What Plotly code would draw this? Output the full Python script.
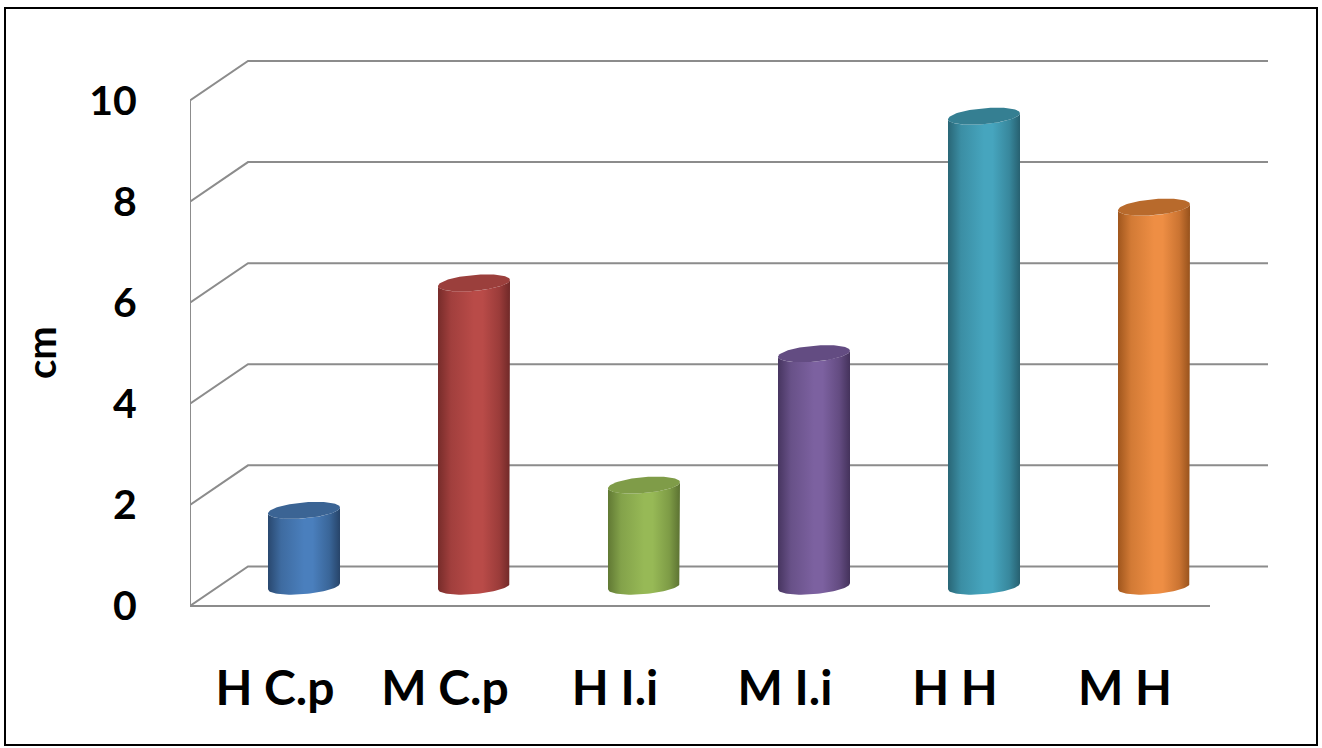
import numpy as np
import plotly.graph_objects as go

# ---- data ----
categories = ["H C.p", "M C.p", "H I.i", "M I.i", "H H", "M H"]
values = [1.5, 6.0, 2.0, 4.6, 9.3, 7.5]
y_ticks = [0, 2, 4, 6, 8, 10]
y_title = "cm"

# body edge colour, body highlight colour, cap colour
bar_dark = ["#2b4c75", "#7d2e2c", "#667f37", "#4b3865", "#2b6b7c", "#a85b1f"]
bar_light = ["#4a7fbd", "#b94b48", "#97b956", "#7c61a0", "#46a5be", "#ee8e44"]
bar_cap = ["#3b6494", "#9b3f3c", "#7f9c48", "#634c82", "#357f92", "#b86a2c"]

# ---- 3D-look geometry (axis units) ----
W, H = 1322, 748
L_M, R_M, T_M, B_M = 190, 54, 50, 137
PX_X = 170.0                       # pixels per category
Y_RANGE = [-0.1, 11.0]
PX_Y = (H - T_M - B_M) / (Y_RANGE[1] - Y_RANGE[0])
X_RANGE = [-0.5, -0.5 + (W - L_M - R_M) / PX_X]
DX = 58 / PX_X                     # depth offset of the back wall
DY = 39.5 / PX_Y
RAD_X = 36 / PX_X                  # cylinder radius
RAD_Y = 8 / PX_Y                   # ellipse half height
SHEAR = 3 / PX_Y                   # slight tilt of the ellipses

GRID = "#8c8c8c"


def mix(c1, c2, t):
    a = [int(c1[i:i + 2], 16) for i in (1, 3, 5)]
    b = [int(c2[i:i + 2], 16) for i in (1, 3, 5)]
    return "#" + "".join(f"{round(x + (y - x) * t):02x}" for x, y in zip(a, b))


fig = go.Figure()

# wall / floor frame
n = len(categories)
fx, fy = [], []
for v in y_ticks:
    fx += [-0.5, -0.5 + DX, n - 0.5 + DX, None]
    fy += [v, v + DY, v + DY, None]
fx += [-0.5, -0.5, None, -0.5, n - 0.5, None]
fy += [y_ticks[0], y_ticks[-1], None, 0, 0, None]
fig.add_trace(go.Scatter(x=fx, y=fy, mode="lines",
                         line=dict(color=GRID, width=2),
                         hoverinfo="skip", showlegend=False))

# cylinders
for i, (cat, v) in enumerate(zip(categories, values)):
    cx = i + DX / 2
    yb = DY / 2
    yt = yb + v
    t_front = np.linspace(np.pi, 2 * np.pi, 48)
    top_x = cx + RAD_X * np.cos(t_front)
    top_y = yt + SHEAR * np.cos(t_front) + RAD_Y * np.sin(t_front)
    bot_x = (cx + RAD_X * np.cos(t_front))[::-1]
    bot_y = (yb + SHEAR * np.cos(t_front) + RAD_Y * np.sin(t_front))[::-1]
    body_x = np.concatenate([[cx - RAD_X], top_x, bot_x])
    body_y = np.concatenate([[yb - SHEAR], top_y, bot_y])
    dark, light = bar_dark[i], bar_light[i]
    scale = [
        [0.0, mix(dark, "#000000", 0.05)],
        [0.18, mix(dark, light, 0.6)],
        [0.5, light],
        [0.62, light],
        [0.85, mix(dark, light, 0.5)],
        [1.0, mix(dark, "#000000", 0.1)],
    ]
    fig.add_trace(go.Scatter(
        x=body_x, y=body_y, mode="lines", fill="toself",
        line=dict(width=0, color=dark),
        fillgradient=dict(type="horizontal", colorscale=scale),
        name=cat, hoverinfo="skip", showlegend=False))

    t_all = np.linspace(0, 2 * np.pi, 96)
    cap_x = cx + RAD_X * np.cos(t_all)
    cap_y = yt + SHEAR * np.cos(t_all) + RAD_Y * np.sin(t_all)
    fig.add_trace(go.Scatter(
        x=cap_x, y=cap_y, mode="lines", fill="toself",
        line=dict(width=0, color=bar_cap[i]),
        fillcolor=bar_cap[i],
        name=cat, hovertemplate=f"{cat}: {v}<extra></extra>",
        showlegend=False))

tick_font = dict(family="Lato", size=41, color="#000000", weight="bold")

fig.update_layout(
    width=W, height=H,
    margin=dict(l=L_M, r=R_M, t=T_M, b=B_M),
    paper_bgcolor="white", plot_bgcolor="white",
    showlegend=False,
    xaxis=dict(range=X_RANGE, tickvals=list(range(n)), ticktext=categories,
               showgrid=False, zeroline=False, showline=False,
               ticks="outside", ticklen=35, tickcolor="rgba(0,0,0,0)",
               tickfont=dict(family="Lato", size=48, color="#000000", weight="bold"),
               fixedrange=True),
    yaxis=dict(range=Y_RANGE, tickvals=y_ticks, ticktext=[str(t) for t in y_ticks],
               showgrid=False, zeroline=False, showline=False,
               ticks="outside", ticklen=44, tickcolor="rgba(0,0,0,0)",
               tickfont=tick_font, fixedrange=True),
    annotations=[dict(
        text=y_title, textangle=-90, showarrow=False,
        xref="paper", yref="paper",
        x=(41 - L_M) / (W - L_M - R_M), y=(H - B_M - 353) / (H - T_M - B_M),
        xanchor="center", yanchor="middle",
        font=dict(family="Lato", size=40, color="#000000", weight="bold"))],
    shapes=[dict(
        type="rect", xref="paper", yref="paper",
        x0=(5 - L_M) / (W - L_M - R_M), x1=(1317 - L_M) / (W - L_M - R_M),
        y0=(H - B_M - 745) / (H - T_M - B_M), y1=(H - B_M - 8) / (H - T_M - B_M),
        line=dict(color="#000000", width=2), layer="below")],
)

fig.write_html("out.html")
